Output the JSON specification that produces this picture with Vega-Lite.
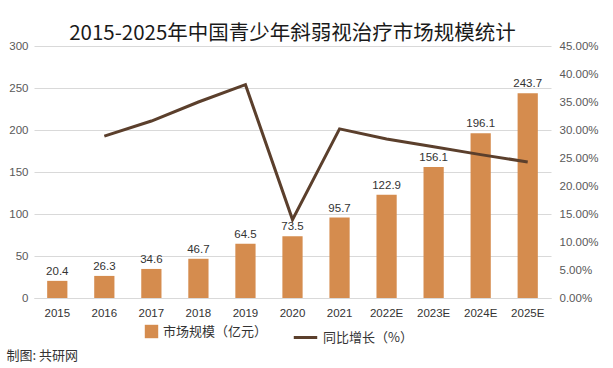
{
  "$schema": "https://vega.github.io/schema/vega-lite/v6.json",
  "width": 613,
  "height": 368,
  "autosize": {"type": "fit", "contains": "padding"},
  "padding": {"left": 6, "right": 14, "top": 23, "bottom": 6},
  "background": "white",
  "title": {
    "text": "2015-2025年中国青少年斜弱视治疗市场规模统计",
    "font": "Noto Sans CJK SC",
    "fontSize": 20.5,
    "fontWeight": "normal",
    "color": "#1a1a1a",
    "anchor": "middle",
    "offset": -4
  },
  "data": {
    "values": [
      {"year": "2015", "size": 20.4, "growth": null},
      {"year": "2016", "size": 26.3, "growth": 0.289},
      {"year": "2017", "size": 34.6, "growth": 0.316},
      {"year": "2018", "size": 46.7, "growth": 0.350},
      {"year": "2019", "size": 64.5, "growth": 0.381},
      {"year": "2020", "size": 73.5, "growth": 0.140},
      {"year": "2021", "size": 95.7, "growth": 0.302},
      {"year": "2022E", "size": 122.9, "growth": 0.284},
      {"year": "2023E", "size": 156.1, "growth": 0.270},
      {"year": "2024E", "size": 196.1, "growth": 0.256},
      {"year": "2025E", "size": 243.7, "growth": 0.243}
    ]
  },
  "encoding": {
    "x": {
      "field": "year",
      "type": "nominal",
      "sort": null,
      "scale": {"paddingInner": 0.57, "paddingOuter": 0.28},
      "axis": {
        "title": "制图: 共研网",
        "titleFont": "Noto Sans CJK SC",
        "titleFontSize": 13,
        "titleFontWeight": "normal",
        "titleColor": "#333333",
        "titleAnchor": "start",
        "titleAlign": "left",
        "titleBaseline": "middle",
        "titleX": -28,
        "titleY": 57,
        "labelAngle": 0,
        "labelFont": "Liberation Sans",
        "labelFontSize": 11.5,
        "labelColor": "#333333",
        "labelPadding": 9,
        "domain": true,
        "domainColor": "#D9D9D9",
        "ticks": false
      }
    }
  },
  "layer": [
    {
      "layer": [
        {
          "mark": {"type": "bar", "color": "#D58C4E"},
          "encoding": {
            "y": {
              "field": "size",
              "type": "quantitative",
              "scale": {"domain": [0, 300]},
              "axis": {
                "title": null,
                "values": [0, 50, 100, 150, 200, 250, 300],
                "labelFont": "Liberation Sans",
                "labelFontSize": 11.5,
                "labelColor": "#595959",
                "labelPadding": 6,
                "domain": false,
                "ticks": false,
                "grid": true,
                "gridColor": "#D9D9D9"
              }
            },
            "fill": {
              "datum": "市场规模（亿元）",
              "type": "nominal",
              "scale": {"range": ["#D58C4E"]},
              "legend": {
                "orient": "none",
                "legendX": 110,
                "legendY": 278,
                "title": null,
                "symbolType": "square",
                "symbolSize": 180,
                "labelFont": "Noto Sans CJK SC",
                "labelFontSize": 13,
                "labelColor": "#333333"
              }
            }
          }
        },
        {
          "mark": {"type": "text", "dy": -9, "font": "Liberation Sans", "fontSize": 11.5, "color": "#333333"},
          "encoding": {
            "y": {"field": "size", "type": "quantitative"},
            "text": {"field": "size", "type": "quantitative", "format": ".1f"}
          }
        }
      ]
    },
    {
      "mark": {"type": "line", "color": "#5B3F2C", "strokeWidth": 3},
      "transform": [{"filter": "datum.growth != null"}],
      "encoding": {
        "y": {
          "field": "growth",
          "type": "quantitative",
          "scale": {"domain": [0, 0.45]},
          "axis": {
            "title": null,
            "orient": "right",
            "format": ".2%",
            "values": [0, 0.05, 0.1, 0.15, 0.2, 0.25, 0.3, 0.35, 0.4, 0.45],
            "labelFont": "Liberation Sans",
            "labelFontSize": 11.5,
            "labelColor": "#595959",
            "labelPadding": 8,
            "domain": false,
            "ticks": false,
            "grid": false
          }
        },
        "stroke": {
          "datum": "同比增长（%）",
          "type": "nominal",
          "scale": {"range": ["#5B3F2C"]},
          "legend": {
            "orient": "none",
            "legendX": 258,
            "legendY": 278,
            "title": null,
            "symbolType": "stroke",
            "symbolStrokeWidth": 3,
            "symbolSize": 550,
            "labelFont": "Noto Sans CJK SC",
            "labelFontSize": 13,
            "labelColor": "#333333"
          }
        }
      }
    }
  ],
  "resolve": {"scale": {"y": "independent"}},
  "config": {
    "view": {"stroke": null}
  }
}
